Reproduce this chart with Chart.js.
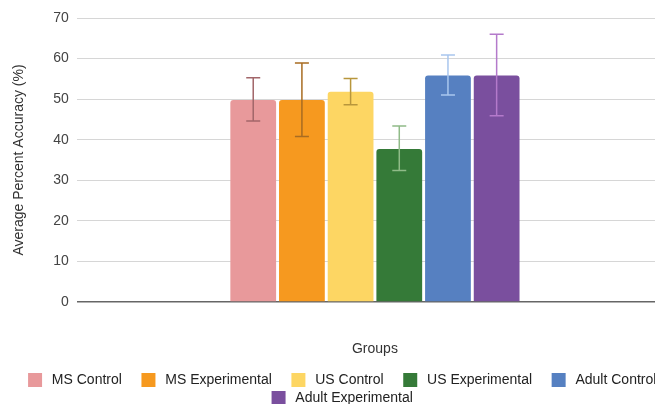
<!DOCTYPE html>
<html>
<head>
<meta charset="utf-8">
<script src="https://cdn.jsdelivr.net/npm/chart.js@4.4.1/dist/chart.umd.min.js"></script>
<style>
  html, body { margin: 0; padding: 0; background: #fff; overflow: hidden; }
  /* the original chart is a bit wider/taller than the shot, so it gets cropped */
  #wrap { position: relative; width: 700px; height: 415px; }
</style>
</head>
<body>
<div id="wrap"><canvas id="accChart"></canvas></div>
<script>
// groups + values
const groups = ['MS Control', 'MS Experimental', 'US Control', 'US Experimental', 'Adult Control', 'Adult Experimental'];
const meanAcc = [49.8, 49.8, 51.8, 37.7, 55.8, 55.8];
const errLow = [44.6, 40.8, 48.6, 32.4, 51.0, 45.9];
const errHigh = [55.3, 58.9, 55.1, 43.4, 60.9, 66.0];
const yTicks = [0, 10, 20, 30, 40, 50, 60, 70];

const barColors = ['#e8999b', '#f6991f', '#fdd663', '#357a38', '#5680c1', '#7a4f9e'];
const errColors = ['#a2666a', '#a86c22', '#b8963c', '#90bb88', '#a9c6ee', '#b47acb'];

Chart.defaults.font.family = '"Liberation Sans", Arial, sans-serif';
Chart.defaults.font.size = 14;

// error bars drawn on top of each bar
const errorBars = {
  id: 'errorBars',
  afterDatasetsDraw(chart) {
    const ctx = chart.ctx;
    const y = chart.scales.y;
    chart.data.datasets.forEach((ds, i) => {
      const bar = chart.getDatasetMeta(i).data[0];
      const top = y.getPixelForValue(errHigh[i]);
      const bot = y.getPixelForValue(errLow[i]);
      ctx.save();
      ctx.strokeStyle = errColors[i];
      ctx.lineWidth = 1.5;
      ctx.beginPath();
      ctx.moveTo(bar.x, top); ctx.lineTo(bar.x, bot);
      ctx.moveTo(bar.x - 7, top); ctx.lineTo(bar.x + 7, top);
      ctx.moveTo(bar.x - 7, bot); ctx.lineTo(bar.x + 7, bot);
      ctx.stroke();
      ctx.restore();
    });
  }
};

const ctx = document.getElementById('accChart').getContext('2d');
new Chart(ctx, {
  type: 'bar',
  data: {
    labels: [''],
    datasets: groups.map((g, i) => ({
      label: g,
      data: [meanAcc[i]],
      backgroundColor: barColors[i],
      borderRadius: { topLeft: 3, topRight: 3 },
      borderSkipped: 'bottom',
      categoryPercentage: 0.49,
      barPercentage: 0.94
    }))
  },
  options: {
    responsive: true,
    maintainAspectRatio: false,
    animation: false,
    layout: { padding: { top: 18, left: 0, right: 0, bottom: 0 } },
    plugins: {
      tooltip: { enabled: false },
      legend: {
        position: 'bottom',
        labels: {
          boxWidth: 14,
          boxHeight: 14,
          padding: 4,
          color: '#222',
          font: { size: 14 },
          generateLabels(chart) {
            const items = Chart.defaults.plugins.legend.labels.generateLabels(chart);
            // thin space in front, a few spaces after: spreads the items like the original
            items.forEach(it => { it.text = '\u2009' + it.text + '    '; it.lineWidth = 0; });
            return items;
          }
        }
      }
    },
    scales: {
      x: {
        grid: { display: false },
        border: { display: false },
        ticks: { display: false },
        title: { display: true, text: 'Groups', color: '#333', font: { size: 14 }, padding: { top: 31, bottom: 11.2 } }
      },
      y: {
        min: 0,
        max: 70,
        afterBuildTicks: s => { s.ticks = yTicks.map(v => ({ value: v })); },
        border: { display: false },
        grid: {
          drawTicks: false,
          color: c => c.tick.value === 0 ? '#666' : '#d6d6d6',
          lineWidth: c => c.tick.value === 0 ? 1.5 : 1
        },
        ticks: { padding: 8, color: '#444', font: { size: 14 } },
        title: { display: true, text: 'Average Percent Accuracy (%)', color: '#333', font: { size: 14 }, padding: { top: 11, bottom: 17.5 } }
      },
      // empty right axis, just keeps the plot off the right edge like the original
      yRight: {
        type: 'linear',
        position: 'right',
        display: true,
        grid: { display: false },
        border: { display: false },
        ticks: { display: false },
        afterFit: s => { s.width = 27; }
      }
    }
  },
  plugins: [errorBars]
});
</script>
</body>
</html>
